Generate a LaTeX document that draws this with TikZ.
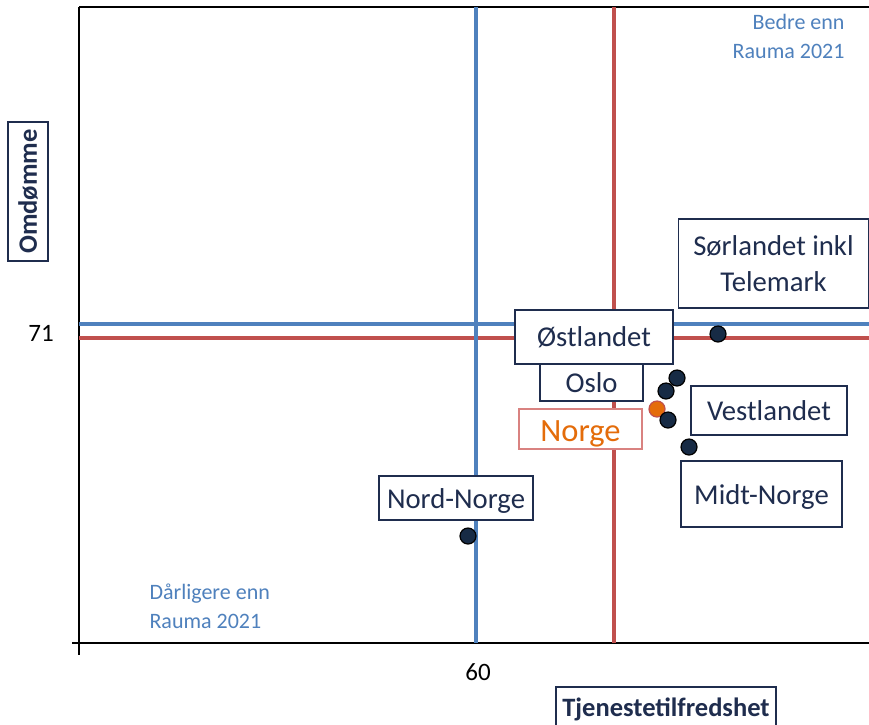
\documentclass[tikz,border=0pt]{standalone}
\usepackage{fontspec}
\setmainfont{Carlito}
\definecolor{navy}{HTML}{1F2D4E}
\definecolor{dotfill}{HTML}{172B45}
\definecolor{refblue}{HTML}{4F81BD}
\definecolor{refred}{HTML}{C0504D}
\definecolor{lightred}{HTML}{D98280}
\definecolor{norgeorange}{HTML}{E46C0A}
% lower a label's ink inside its box without changing the box's nominal size
\newcommand{\lowered}[2]{\raisebox{-#1}[0pt][0pt]{#2}}
\tikzset{
  lbl/.style={draw=navy, line width=1.4pt, fill=white, text=navy, inner sep=0pt,
    font=\fontsize{28.7}{36}\selectfont, align=center},
  axlbl/.style={draw=navy, line width=1.4pt, fill=white, text=navy, inner sep=0pt,
    font=\fontsize{26.5}{30}\selectfont\bfseries},
  dot/.style={circle, draw=black, line width=1.2pt, fill=dotfill, minimum size=16pt, inner sep=0pt},
  refline/.style={line width=4.5pt},
  note/.style={text=refblue, font=\fontsize{22}{29}\selectfont},
  ticklbl/.style={font=\fontsize{25}{28}\selectfont, text=black}
}
\begin{document}
\begin{tikzpicture}[x=1pt, y=-1pt]
\useasboundingbox[fill=white] (0,0) rectangle (869,724);
\clip (0,0) rectangle (869,724);

% plot frame
\coordinate (tl) at (79,7);
\coordinate (tr) at (869,7);
\coordinate (bl) at (79,655);
\coordinate (ax0) at (72,643);
\coordinate (ax1) at (869,643);
\draw[line width=1.5pt] (tl) -- (tr);
\draw[line width=1.5pt] (tl) -- (bl);
\draw[line width=1.5pt] (ax0) -- (ax1);

% reference lines
\coordinate (bh0) at (79,324); \coordinate (bh1) at (869,324);
\coordinate (rh0) at (79,338); \coordinate (rh1) at (869,338);
\coordinate (bv0) at (476,7);  \coordinate (bv1) at (476,643);
\coordinate (rv0) at (614,7);  \coordinate (rv1) at (614,643);
\draw[refline, refblue] (bh0) -- (bh1);
\draw[refline, refred] (rh0) -- (rh1);
\draw[refline, refblue] (bv0) -- (bv1);
\draw[refline, refred] (rv0) -- (rv1);

% tick labels
\node[ticklbl] (t71) at (41,333) {71};
\node[ticklbl] (t60) at (478,672) {60};

% axis titles
\node[axlbl, rotate=90, minimum width=139pt, minimum height=40pt] (ytitle) at (28,191.5) {Omdømme};
\node[axlbl, minimum width=220pt, minimum height=44pt] (xtitle) at (666,709) {Tjenestetilfredshet};

% quadrant notes
\node[note, align=right, anchor=east] (better) at (848,36) {Bedre enn\\Rauma 2021};
\node[note, align=left, anchor=west] (worse) at (146,606) {Dårligere enn\\Rauma 2021};

% region labels
\node[lbl, minimum width=190pt, minimum height=89pt] (sor) at (773.5,263.5) {Sørlandet inkl\\Telemark};
\node[lbl, minimum width=158pt, minimum height=54pt] (ost) at (594,337) {Østlandet};
\node[lbl, minimum width=103pt, minimum height=37pt] (oslo) at (591.5,382.5) {Oslo};
\node[lbl, draw=lightred, text=norgeorange, font=\fontsize{32.5}{36}\selectfont, minimum width=123pt, minimum height=40pt] (norge) at (580.5,429) {\lowered{12pt}{Norge}};
\node[lbl, minimum width=156pt, minimum height=49pt] (vest) at (769,410.5) {\lowered{10pt}{Vestlandet}};
\node[lbl, minimum width=161pt, minimum height=66pt] (midt) at (761.5,494) {\lowered{10pt}{Midt-Norge}};
\node[lbl, minimum width=154pt, minimum height=44pt] (nord) at (456,498) {\lowered{10pt}{Nord-Norge}};

% data points
\node[dot] (psor) at (718,334) {};
\node[dot] (pa) at (677,378) {};
\node[dot] (pb) at (666,391) {};
\node[dot, fill=norgeorange, draw=refred] (pnorge) at (657,409) {};
\node[dot] (pc) at (668,420) {};
\node[dot] (pmidt) at (689,447) {};
\node[dot] (pnord) at (468,536) {};
\end{tikzpicture}
\end{document}
